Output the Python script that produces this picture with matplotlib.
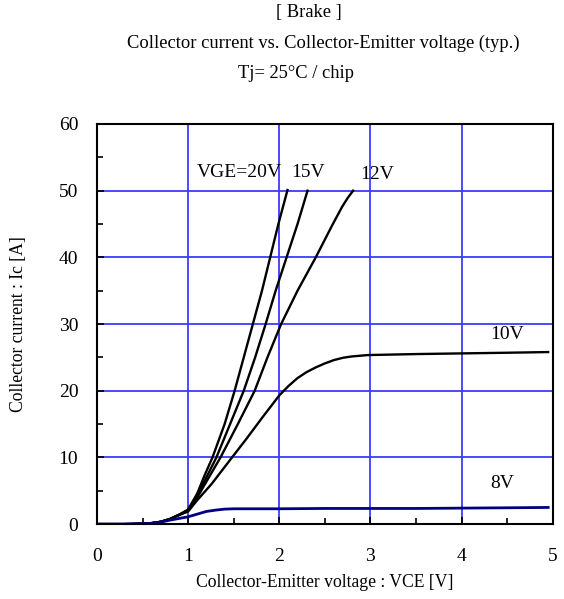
import matplotlib.pyplot as plt
from matplotlib.ticker import MultipleLocator

plt.rcParams['font.family'] = ['Liberation Serif', 'DejaVu Serif']

# curvas Ic-VCE (VCE [V], Ic [A])
vce_20 = [0.0, 0.3, 0.5, 0.6, 0.7, 0.8, 0.9, 1.0, 1.1, 1.18, 1.267, 1.4, 1.51, 1.61, 1.71, 1.81, 1.90, 1.99, 2.09]
ic_20 = [0.0, 0.0, 0.05, 0.15, 0.35, 0.76, 1.4, 2.2, 4.6, 7.3, 10.0, 15.0, 20.0, 25.0, 30.0, 35.0, 40.0, 45.0, 50.1]

vce_15 = [0.0, 0.3, 0.5, 0.6, 0.7, 0.8, 0.9, 1.0, 1.1, 1.2, 1.31, 1.46, 1.61, 1.735, 1.85, 1.96, 2.08, 2.2, 2.31]
ic_15 = [0.0, 0.0, 0.05, 0.15, 0.35, 0.76, 1.4, 2.1, 4.3, 7.0, 10.0, 15.0, 20.0, 25.0, 30.0, 35.0, 40.0, 45.0, 50.0]

vce_12 = [0.0, 0.3, 0.5, 0.6, 0.7, 0.8, 0.9, 1.0, 1.1, 1.18, 1.355, 1.545, 1.73, 1.87, 2.02, 2.2, 2.40, 2.58, 2.69, 2.75, 2.81]
ic_12 = [0.0, 0.0, 0.05, 0.15, 0.35, 0.76, 1.4, 2.0, 4.0, 5.9, 10.0, 15.0, 20.0, 25.0, 30.0, 35.0, 40.0, 44.8, 47.6, 48.9, 50.0]

vce_10 = [0.0, 0.3, 0.5, 0.6, 0.7, 0.8, 0.9, 1.0, 1.1, 1.256, 1.47, 1.64, 1.82, 2.0, 2.1, 2.2, 2.3, 2.4, 2.5,
          2.6, 2.7, 2.8, 2.97, 3.5, 4.0, 4.5, 4.95]
ic_10 = [0.0, 0.0, 0.05, 0.15, 0.35, 0.76, 1.35, 1.9, 3.6, 6.0, 9.8, 12.8, 16.1, 19.3, 20.7, 21.9, 22.8, 23.5, 24.1,
         24.6, 24.95, 25.15, 25.35, 25.5, 25.6, 25.7, 25.8]

vce_8 = [0.0, 0.3, 0.5, 0.6, 0.7, 0.8, 0.9, 1.0, 1.1, 1.2, 1.3, 1.4, 1.5, 2.0, 2.5, 3.0, 3.5, 4.0, 4.5, 4.95]
ic_8 = [0.0, 0.0, 0.05, 0.12, 0.3, 0.6, 0.85, 1.1, 1.5, 1.9, 2.1, 2.25, 2.3, 2.3, 2.35, 2.35, 2.35, 2.4, 2.45, 2.5]

x_ticks = [0, 1, 2, 3, 4, 5]
y_ticks = [0, 10, 20, 30, 40, 50, 60]

fig = plt.figure(figsize=(5.64, 5.99), dpi=100)
ax = fig.add_axes([0.172, 0.125, 0.808, 0.668])

ax.grid(True, color='#3c3cff', linewidth=1.3)
ax.set_axisbelow(True)

for xs, ys in [(vce_20, ic_20), (vce_15, ic_15), (vce_12, ic_12), (vce_10, ic_10)]:
    ax.plot(xs, ys, color='black', linewidth=1.7, solid_joinstyle='round')
ax.plot(vce_8, ic_8, color='#000080', linewidth=2.0, solid_joinstyle='round')

ax.set_xlim(0, 5)
ax.set_ylim(0, 60)
ax.set_xticks(x_ticks)
ax.set_yticks(y_ticks)
ax.xaxis.set_minor_locator(MultipleLocator(0.5))
ax.yaxis.set_minor_locator(MultipleLocator(5))
ax.tick_params(which='both', direction='in', labelsize=14, width=1.2)
ax.tick_params(which='major', length=5)
ax.tick_params(which='minor', length=4)
ax.tick_params(axis='x', which='major', pad=17)
ax.tick_params(axis='y', which='major', pad=13.5)
for s in ax.spines.values():
    s.set_linewidth(1.5)

# etiquetas de VGE
ax.text(1.09, 52.7, 'VGE=20V', fontsize=14, va='center')
ax.text(2.135, 52.7, '15V', fontsize=14, va='center')
ax.text(2.89, 52.4, '12V', fontsize=14, va='center')
ax.text(4.31, 28.5, '10V', fontsize=14, va='center')
ax.text(4.31, 6.1, '8V', fontsize=14, va='center')

ax.set_xlabel('Collector-Emitter voltage : VCE [V]', fontsize=12.7, va='center')
ax.xaxis.set_label_coords(0.5, -0.145)
ax.set_ylabel('Collector current : Ic [A]', fontsize=12.7, va='center')
ax.yaxis.set_label_coords(-0.173, 0.5)

fig.text(309 / 564, 1 - 13 / 599, '[ Brake ]', fontsize=13.3, ha='center', va='center')
fig.text(323 / 564, 1 - 43 / 599, 'Collector current vs. Collector-Emitter voltage (typ.)',
         fontsize=13.3, ha='center', va='center')
fig.text(296 / 564, 1 - 73 / 599, 'Tj= 25°C / chip', fontsize=13.3, ha='center', va='center')

fig.savefig('out.png', dpi=100)
